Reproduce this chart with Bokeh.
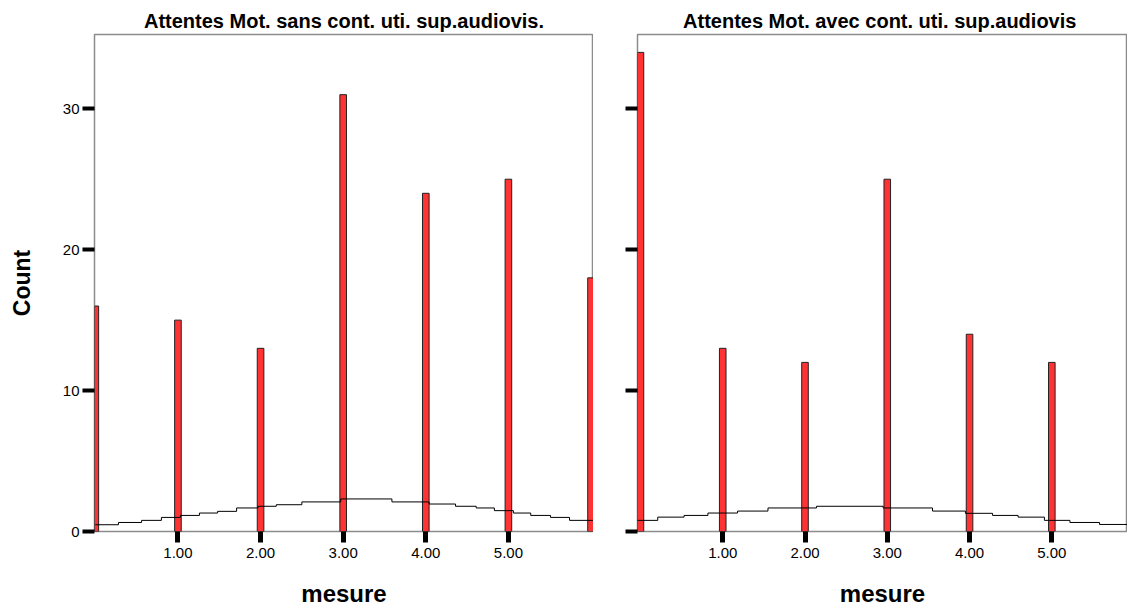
from bokeh.plotting import figure
from bokeh.layouts import row
from bokeh.models import FixedTicker, Range1d
from bokeh.embed import file_html
from bokeh.resources import INLINE

# ---------------- data ----------------
titles = ["Attentes Mot. sans cont. uti. sup.audiovis.",
          "Attentes Mot. avec cont.  uti. sup.audiovis"]
x_label = "mesure"
y_label = "Count"

left_values = [0, 1, 2, 3, 4, 5, 6]
left_counts = [16, 15, 13, 31, 24, 25, 18]

right_values = [0, 1, 2, 3, 4, 5]
right_counts = [34, 13, 12, 25, 14, 12]

# normal curve (drawn as steps): step edges and levels
left_curve_edges = [0.0, 0.28, 0.56, 0.80, 1.03, 1.26, 1.48, 1.71, 1.97, 2.19, 2.50,
                    2.97, 3.59, 4.04, 4.36, 4.61, 4.83, 5.06, 5.27, 5.51, 5.74, 6.03]
left_curve_levels = [0.48, 0.64, 0.79, 1.00, 1.14, 1.31, 1.43, 1.67, 1.79, 1.90, 2.10,
                     2.31, 2.10, 1.95, 1.79, 1.67, 1.48, 1.31, 1.14, 1.00, 0.79]

right_curve_edges = [-0.04, 0.21, 0.53, 0.82, 1.18, 1.55, 2.14, 2.95, 3.55, 3.95,
                     4.28, 4.59, 4.91, 5.22, 5.58, 5.95]
right_curve_levels = [0.79, 1.02, 1.14, 1.31, 1.45, 1.67, 1.79, 1.67, 1.45, 1.29,
                      1.14, 1.02, 0.79, 0.64, 0.50]

x_ticks = [1, 2, 3, 4, 5]
x_tick_labels = ["1.00", "2.00", "3.00", "4.00", "5.00"]
y_ticks = [0, 10, 20, 30]
y_tick_labels = ["0", "10", "20", "30"]

FONT = "Liberation Sans"
H = 609


def make_panel(title, xs, counts, cedges, clevels, xr, width, border_left, show_y):
    p = figure(width=width, height=H, x_range=Range1d(*xr), y_range=Range1d(0, 35.27),
               output_backend="svg", toolbar_location=None,
               min_border_left=border_left, min_border_right=0,
               min_border_top=34, min_border_bottom=77, title=title)
    p.title.text_font = FONT
    p.title.text_font_size = "20px"
    p.title.text_font_style = "bold"
    p.title.align = "center"
    p.title.standoff = 6
    p.title.text_color = "black"
    p.grid.visible = False
    p.outline_line_color = "#8c8c8c"
    p.outline_line_width = 1.5
    p.background_fill_color = "white"
    p.border_fill_color = "white"

    p.vbar(x=xs, top=counts, width=0.08, fill_color="#ff3333",
           line_color="#222222", line_width=1)
    p.step(x=cedges, y=clevels + [clevels[-1]], mode="after",
           line_color="black", line_width=1)

    xa = p.xaxis[0]
    xa.ticker = FixedTicker(ticks=x_ticks)
    xa.major_label_overrides = {t: l for t, l in zip(x_ticks, x_tick_labels)}
    xa.axis_line_color = None
    xa.major_tick_line_color = "black"
    xa.major_tick_line_width = 5
    xa.major_tick_out = 11
    xa.major_tick_in = 0
    xa.minor_tick_line_color = None
    xa.major_label_standoff = 5
    xa.major_label_text_font = FONT
    xa.major_label_text_font_size = "15px"
    xa.major_label_text_color = "black"
    xa.axis_label = x_label
    xa.axis_label_text_font = FONT
    xa.axis_label_text_font_size = "24px"
    xa.axis_label_text_font_style = "bold"
    xa.axis_label_text_color = "black"
    xa.axis_label_standoff = 19

    ya = p.yaxis[0]
    ya.ticker = FixedTicker(ticks=y_ticks)
    if show_y:
        ya.major_label_overrides = {t: l for t, l in zip(y_ticks, y_tick_labels)}
        ya.axis_label = y_label
    else:
        ya.major_label_overrides = {t: "" for t in y_ticks}
    ya.axis_line_color = None
    ya.major_tick_line_color = "black"
    ya.major_tick_line_width = 4
    ya.major_tick_out = 12
    ya.major_tick_in = 0
    ya.minor_tick_line_color = None
    ya.major_label_standoff = 3
    ya.major_label_text_font = FONT
    ya.major_label_text_font_size = "15px"
    ya.major_label_text_color = "black"
    ya.axis_label_text_font = FONT
    ya.axis_label_text_font_size = "23px"
    ya.axis_label_text_font_style = "bold"
    ya.axis_label_text_color = "black"
    ya.axis_label_standoff = 25
    return p


p1 = make_panel(titles[0], left_values, left_counts, left_curve_edges, left_curve_levels,
                (-0.01, 6.03), 593, 94, True)
p2 = make_panel(titles[1], right_values, right_counts, right_curve_edges, right_curve_levels,
                (-0.036, 5.92), 534, 44, False)

layout = row(p1, p2)
open("out.html", "w").write(file_html(layout, INLINE))
